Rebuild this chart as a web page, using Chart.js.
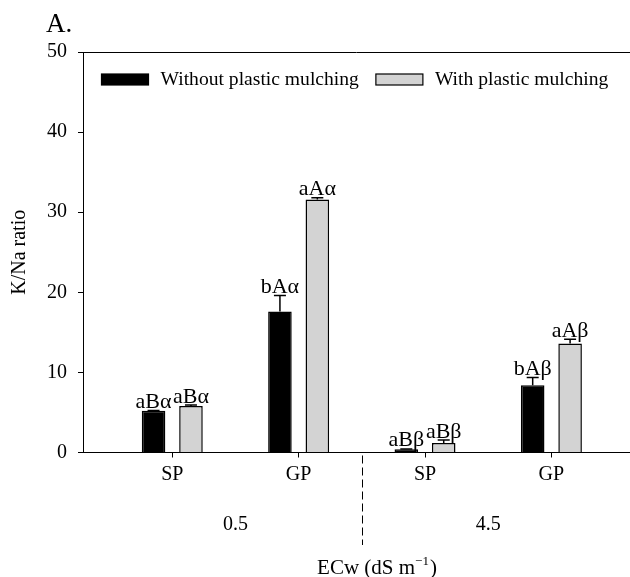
<!DOCTYPE html>
<html><head><meta charset="utf-8">
<script src="https://cdn.jsdelivr.net/npm/chart.js@4.4.1/dist/chart.umd.min.js"></script>
<style>html,body{margin:0;padding:0;background:#fff}canvas{display:block}</style>
</head><body>
<canvas id="c" width="630" height="577"></canvas>
<script>
// ---- data ----
const categories = ["SP", "GP", "SP", "GP"];
const categoryPositions = [1, 2, 3, 4];
const groupLabels = ["0.5", "4.5"];
const groupPositions = [1.5, 3.5];
const groupSeparators = [2.5];
const seriesNames = ["Without plastic mulching", "With plastic mulching"];
const withoutMulch = [5.2, 17.6, 0.4, 8.4];
const withMulch = [5.8, 31.6, 1.2, 13.6];
const withoutErr = [0.05, 2.0, 0.05, 0.95];
const withErr = [0.12, 0.2, 0.35, 0.55];
const withoutLetters = ["aBα", "bAα", "aBβ", "bAβ"];
const withLetters = ["aBα", "aAα", "aBβ", "aAβ"];
const yTicks = [0, 10, 20, 30, 40, 50];
const panelLabel = "A.";
const yTitle = "K/Na ratio";
const xTitleMain = "ECw (dS m";
const xTitleSup = "\u22121";
const xTitleEnd = ")";

// ---- style / layout ----
const serif = "'Liberation Serif','Times New Roman',serif";
const X_MIN = 0.2937, X_MAX = 4.622;
Chart.defaults.font.family = serif;
Chart.defaults.color = '#000';

const errs = [withoutErr, withErr];
const letters = [withoutLetters, withLetters];

const decor = {
  id: 'decor',
  afterDatasetsDraw(chart) {
    const ctx = chart.ctx, ys = chart.scales.y;
    chart.data.datasets.forEach((ds, di) => {
      const meta = chart.getDatasetMeta(di);
      meta.data.forEach((el, i) => {
        const v = ds.data[i].y, e = errs[di][i];
        const yt = ys.getPixelForValue(v + e);
        ctx.save();
        ctx.strokeStyle = '#000';
        ctx.lineWidth = 1.5;
        ctx.beginPath();
        ctx.moveTo(el.x, el.y);
        ctx.lineTo(el.x, yt);
        ctx.moveTo(el.x - 6, yt);
        ctx.lineTo(el.x + 6, yt);
        ctx.stroke();
        ctx.fillStyle = '#000';
        ctx.font = '22px ' + serif;
        ctx.textAlign = 'center';
        ctx.textBaseline = 'alphabetic';
        ctx.fillText(letters[di][i], el.x, yt - 2.5);
        ctx.restore();
      });
    });
  },
  afterDraw(chart) {
    const ctx = chart.ctx, a = chart.chartArea, xs = chart.scales.x, xg = chart.scales.xg;
    ctx.save();
    ctx.strokeStyle = '#000';
    ctx.lineWidth = 1;
    ctx.beginPath();
    ctx.moveTo(a.left, a.top + 0.5);
    ctx.lineTo(a.right, a.top + 0.5);
    ctx.stroke();
    ctx.setLineDash([8, 4]);
    groupSeparators.forEach(v => {
      const px = Math.round(xs.getPixelForValue(v)) + 0.5;
      ctx.beginPath();
      ctx.moveTo(px, a.bottom + 3);
      ctx.lineTo(px, xg.bottom - 32);
      ctx.stroke();
    });
    ctx.setLineDash([]);

    // legend (inside plot, one row)
    ctx.font = '19.6px ' + serif;
    ctx.textBaseline = 'middle';
    ctx.textAlign = 'left';
    let lx = a.left + 18.5;
    const ly = a.top + 22;
    chart.data.datasets.forEach(ds => {
      ctx.fillStyle = ds.backgroundColor;
      ctx.fillRect(lx, ly, 47, 11);
      ctx.lineWidth = 1.2;
      ctx.strokeStyle = ds.borderColor;
      ctx.strokeRect(lx, ly, 47, 11);
      ctx.fillStyle = '#000';
      ctx.fillText(ds.label, lx + 47 + 12, ly + 6);
      lx += 47 + 12 + ctx.measureText(ds.label).width + 17;
    });

    // x axis title with superscript
    ctx.textBaseline = 'alphabetic';
    const mainFont = '21px ' + serif, supFont = '13px ' + serif;
    ctx.font = mainFont;
    const w1 = ctx.measureText(xTitleMain).width, w3 = ctx.measureText(xTitleEnd).width;
    ctx.font = supFont;
    const w2 = ctx.measureText(xTitleSup).width;
    const total = w1 + w2 + 1 + w3;
    let tx = 377 - total / 2;
    const ty = xg.bottom - 3;
    ctx.font = mainFont;
    ctx.fillText(xTitleMain, tx, ty);
    tx += w1;
    ctx.font = supFont;
    ctx.fillText(xTitleSup, tx, ty - 9);
    tx += w2 + 1;
    ctx.font = mainFont;
    ctx.fillText(xTitleEnd, tx, ty);

    ctx.fillStyle = '#000';
    ctx.font = '27px ' + serif;
    ctx.textAlign = 'left';
    ctx.textBaseline = 'alphabetic';
    ctx.fillText(panelLabel, 46, 32);
    ctx.restore();
  }
};

new Chart(document.getElementById('c'), {
  type: 'bar',
  data: {
    datasets: [
      {
        label: seriesNames[0],
        data: categoryPositions.map((x, i) => ({ x, y: withoutMulch[i] })),
        backgroundColor: '#000000',
        borderColor: '#000000',
        borderWidth: 1.5
      },
      {
        label: seriesNames[1],
        data: categoryPositions.map((x, i) => ({ x, y: withMulch[i] })),
        backgroundColor: '#d3d3d3',
        borderColor: '#000000',
        borderWidth: 1.5
      }
    ]
  },
  options: {
    responsive: false,
    animation: false,
    categoryPercentage: 0.592,
    barPercentage: 0.63,
    layout: { padding: { top: 52, left: 0, right: 0, bottom: 0 } },
    plugins: {
      legend: { display: false },
      tooltip: { enabled: false },
      title: { display: false }
    },
    scales: {
      x: {
        type: 'linear',
        position: 'bottom',
        offset: false,
        min: X_MIN,
        max: X_MAX,
        afterBuildTicks: s => { s.ticks = categoryPositions.map(v => ({ value: v })); },
        afterFit: s => { s.height = 30; },
        ticks: {
          padding: 5.5,
          autoSkip: false,
          maxRotation: 0,
          font: { size: 20, family: serif },
          color: '#000',
          callback: (v, i) => categories[i]
        },
        grid: { offset: false, drawOnChartArea: false, drawTicks: true, tickLength: 5, color: '#000', lineWidth: 1 },
        border: { display: true, color: '#000', width: 1 }
      },
      xg: {
        type: 'linear',
        position: 'bottom',
        offset: false,
        min: X_MIN,
        max: X_MAX,
        afterBuildTicks: s => { s.ticks = groupPositions.map(v => ({ value: v })); },
        afterFit: s => { s.height = 94.5; },
        ticks: {
          padding: 22,
          autoSkip: false,
          maxRotation: 0,
          font: { size: 20, family: serif },
          color: '#000',
          callback: (v, i) => groupLabels[i]
        },
        grid: { display: false, offset: false },
        border: { display: false },
        title: { display: false }
      },
      y: {
        min: 0,
        max: 50,
        afterBuildTicks: s => { s.ticks = yTicks.map(v => ({ value: v })); },
        afterFit: s => { s.width = 83; },
        ticks: {
          padding: 11,
          font: { size: 20, family: serif },
          color: '#000'
        },
        grid: { drawOnChartArea: false, drawTicks: true, tickLength: 5, color: '#000', lineWidth: 1 },
        border: { display: true, color: '#000', width: 1 },
        title: {
          display: true,
          text: yTitle,
          color: '#000',
          font: { size: 20, family: serif },
          padding: { top: 8, bottom: 0 }
        }
      }
    }
  },
  plugins: [decor]
});
</script>
</body></html>
